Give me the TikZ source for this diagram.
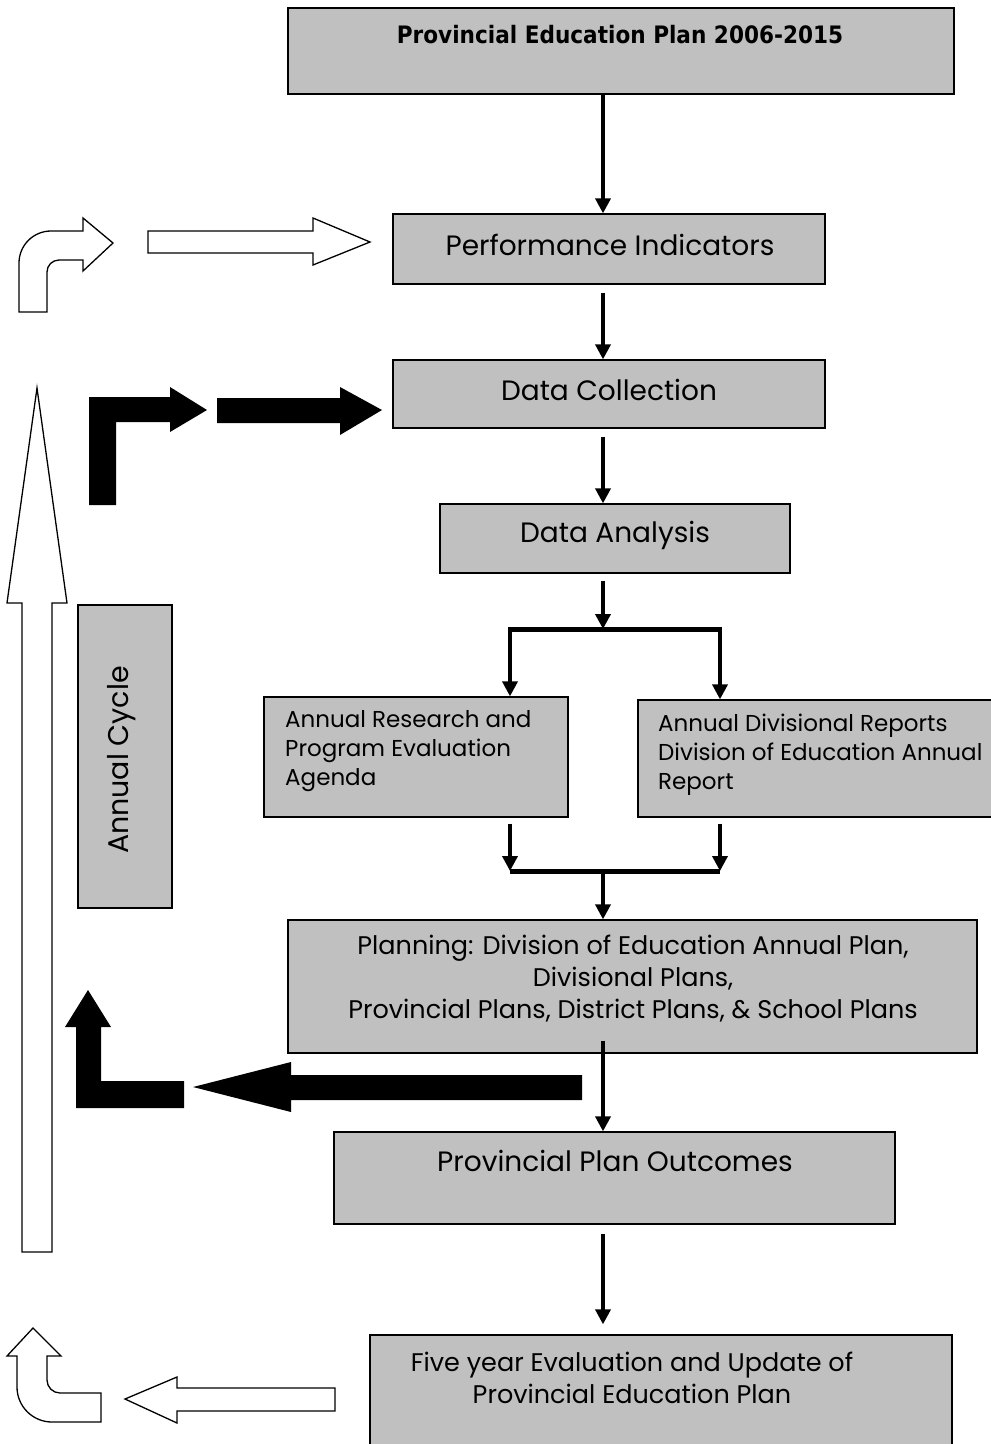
\documentclass[tikz,border=0pt]{standalone}
\usepackage{fontspec}
\setmainfont{Poppins}
\newfontfamily\titlefont[FakeStretch=0.9]{DejaVu Sans}
\usetikzlibrary{arrows.meta}
\definecolor{boxgray}{HTML}{C0C0C0}
\begin{document}
\begin{tikzpicture}[x=1pt,y=-1pt,
  box/.style={draw=black, line width=1.3pt, fill=boxgray, inner sep=0pt},
  conn/.style={line width=3.6pt, -{Triangle[width=15pt,length=15pt]}},
  bar/.style={line width=5pt},
  openarrow/.style={draw=black, line width=1.3pt, fill=white, line join=miter},
  solidarrow/.style={fill=black},
  bigtxt/.style={inner sep=0pt, font=\fontsize{28}{32}\selectfont},
  midtxt/.style={inner sep=0pt, align=center, font=\fontsize{25.5}{32}\selectfont},
  smalltxt/.style={inner sep=0pt, align=left, font=\fontsize{23}{29}\selectfont}
]
\useasboundingbox (0,0) rectangle (991,1444);
\clip (0,0) rectangle (991,1444);
\fill[white] (0,0) rectangle (991,1444);

% boxes
\node[box, minimum width=666pt, minimum height=86pt] (b1) at (621,51) {};
\node[box, minimum width=432pt, minimum height=70pt] (b2) at (609,249) {};
\node[box, minimum width=432pt, minimum height=68pt] (b3) at (609,394) {};
\node[box, minimum width=350pt, minimum height=69pt] (b4) at (615,538.5) {};
\node[box, minimum width=304pt, minimum height=120pt] (b5) at (416,757) {};
\node[box, minimum width=362pt, minimum height=117pt] (b6) at (819,758.5) {};
\node[box, minimum width=689pt, minimum height=133pt] (b7) at (632.5,986.5) {};
\node[box, minimum width=561pt, minimum height=92pt] (b8) at (614.5,1178) {};
\node[box, minimum width=582pt, minimum height=125pt] (b9) at (661,1397.5) {};
\node[box, minimum width=94pt, minimum height=303pt] (bc) at (125,756.5) {};

% texts
\node[inner sep=0pt, font=\titlefont\bfseries\fontsize{24}{26}\selectfont] (t1) at (620,35) {Provincial Education Plan 2006-2015};
\node[bigtxt] (t2) at (610,245) {Performance Indicators};
\node[bigtxt] (t3) at (609,390) {Data Collection};
\node[bigtxt] (t4) at (615,535) {Data Analysis};
\node[smalltxt, anchor=west] (t5) at (285,751) {Annual Research and\\Program Evaluation\\Agenda};
\node[smalltxt, anchor=west] (t6) at (658,755) {Annual Divisional Reports\\Division of Education Annual\\Report};
\node[midtxt] (t7) at (633,979) {Planning: Division of Education Annual Plan,\\Divisional Plans,\\Provincial Plans, District Plans, \& School Plans};
\node[bigtxt] (t8) at (615,1161) {Provincial Plan Outcomes};
\node[midtxt] (t9) at (632,1378) {Five year Evaluation and Update of\\Provincial Education Plan};
\node[inner sep=0pt, font=\fontsize{28.5}{32}\selectfont, rotate=90] (tc) at (122,760) {Annual Cycle};

% connectors
\coordinate (sp) at (603,0);
\coordinate (fl) at (510,629);
\coordinate (fm) at (603,629);
\coordinate (fr) at (720,629);
\coordinate (jl) at (510,871);
\coordinate (jm) at (603,871);
\coordinate (jr) at (720,871);
\draw[conn] (b1.south -| sp) -- (b2.north -| sp);
\draw[conn] ([yshift=-8pt]b2.south -| sp) -- (b3.north -| sp);
\draw[conn] ([yshift=-8pt]b3.south -| sp) -- (b4.north -| sp);
\draw[conn] ([yshift=-7pt]b4.south -| sp) -- (fm);
\draw[bar] ([xshift=-1.8pt]fl) -- ([xshift=1.8pt]fr);
\draw[conn] ([yshift=2pt]fl) -- (b5.north -| fl);
\draw[conn] ([yshift=2pt]fr) -- (b6.north -| fr);
\draw[conn] ([yshift=-6pt]b5.south -| jl) -- (jl);
\draw[conn] ([yshift=-6pt]b6.south -| jr) -- (jr);
\draw[bar] (jl) -- (jr);
\draw[conn] ([yshift=2pt]jm) -- (b7.north -| sp);
\draw[conn] ([yshift=13pt]b7.south -| sp) -- (b8.north -| sp);
\draw[conn] ([yshift=-9pt]b8.south -| sp) -- ([yshift=10pt]b9.north -| sp);

% open curved arrow (top left)
\draw[openarrow] (19,312) -- (19,263) arc[start angle=180, end angle=270, radius=32]
  -- (83,231) -- (83,218) -- (113,243) -- (83,271) -- (83,260) -- (59,260)
  arc[start angle=270, end angle=180, radius=12] -- (47,312) -- cycle;
% open straight arrow (top)
\draw[openarrow] (148,231) -- (313,231) -- (313,218) -- (370,242) -- (313,265) -- (313,253) -- (148,253) -- cycle;
% black bent arrow
\fill[solidarrow] (89,505) -- (89,397) -- (170,397) -- (170,387) -- (207,410) -- (170,432) -- (170,422) -- (116,422) -- (116,505) -- cycle;
% black straight arrow
\fill[solidarrow] (217,398) -- (340,398) -- (340,387) -- (382,410) -- (340,435) -- (340,423) -- (217,423) -- cycle;
% big open up arrow
\draw[openarrow] (22,1252) -- (22,603) -- (7,603) -- (37,388) -- (67,603) -- (52,603) -- (52,1252) -- cycle;
% black L arrow (bottom)
\fill[solidarrow] (76,1108) -- (76,1027) -- (65,1027) -- (88,990) -- (111,1027) -- (101,1027) -- (101,1081) -- (184,1081) -- (184,1108) -- cycle;
% black left arrow
\fill[solidarrow] (582,1075) -- (291,1075) -- (291,1062) -- (193,1087) -- (291,1112) -- (291,1100) -- (582,1100) -- cycle;
% open curved up arrow (bottom left)
\draw[openarrow] (17,1356) -- (17,1387) arc[start angle=180, end angle=90, radius=35]
  -- (101,1422) -- (101,1393) -- (60,1393)
  arc[start angle=90, end angle=180, radius=13] -- (47,1356) -- (61,1356) -- (33,1328) -- (7,1356) -- cycle;
% open straight left arrow (bottom)
\draw[openarrow] (335,1388) -- (177,1388) -- (177,1377) -- (125,1399) -- (177,1423) -- (177,1411) -- (335,1411) -- cycle;
\end{tikzpicture}
\end{document}
